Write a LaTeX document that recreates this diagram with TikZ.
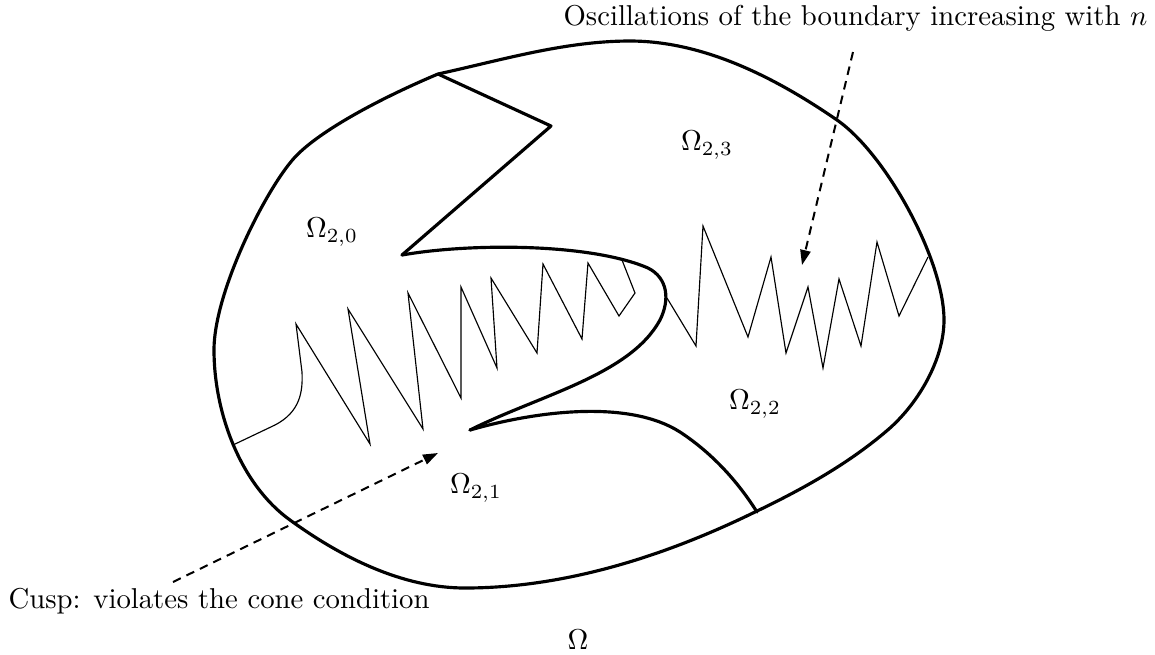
\documentclass[tikz,border=0pt]{standalone}
\usetikzlibrary{arrows.meta}
\begin{document}
\begin{tikzpicture}[x=0.348pt,y=-0.348pt,
  bnd/.style={line width=1.1pt, line join=round, line cap=round},
  osc/.style={line width=0.4pt, line join=miter},
  callout/.style={line width=0.7pt, dash pattern=on 3pt off 2.2pt, -{Triangle[length=5.2pt,width=3.6pt]}},
  lab/.style={inner sep=0pt, font=\fontsize{10}{12}\selectfont}]
\useasboundingbox (0,0) rectangle (1155,654);

% outer boundary
\draw[bnd] (438,74) .. controls (502,60) and (565,41) .. (630,41)
  .. controls (704,41) and (776,78) .. (837,120)
  .. controls (886,154) and (944,260) .. (944,320)
  .. controls (944,359) and (919,402) .. (890,428)
  .. controls (850,463) and (803,489) .. (755,512)
  .. controls (665,556) and (565,588) .. (465,588)
  .. controls (402,588) and (341,557) .. (290,520)
  .. controls (240,484) and (214,412) .. (214,350)
  .. controls (214,290) and (269,183) .. (297,155)
  .. controls (325,127) and (388,95) .. (438,74) -- cycle;

% Z-shaped interface
\draw[bnd] (438,74) -- (551,126) -- (402,255);
% upper cusp curve
\draw[bnd] (402,255) .. controls (470,243) and (590,243) .. (648,268)
  .. controls (668,278) and (670,300) .. (660,320)
  .. controls (630,375) and (540,395) .. (470,430);
% lower cusp curve
\draw[bnd] (470,430) .. controls (540,410) and (630,400) .. (680,432)
  .. controls (715,455) and (740,485) .. (757,512);

% left oscillating boundary
\draw[osc] (233,445) -- (275,425) .. controls (300,412) and (303,392) .. (302,372)
  -- (296,324) -- (370,444) -- (348,309) -- (423,429) -- (408,293) -- (461,398)
  -- (461,287) -- (497,368) -- (491,278) -- (537,353) -- (543,264) -- (582,339)
  -- (588,263) -- (619,316) -- (635,293) -- (622,260);
% right oscillating boundary
\draw[osc] (667,298) -- (696,346) -- (703,226) -- (748,337) -- (771,257)
  -- (786,353) -- (808,287) -- (823,368) -- (839,279) -- (861,346) -- (877,242)
  -- (899,316) -- (928,257);

% labels
\node[lab] (o20) at (332,232) {$\Omega_{2,0}$};
\node[lab] (o23) at (707,145) {$\Omega_{2,3}$};
\node[lab] (o22) at (755,404) {$\Omega_{2,2}$};
\node[lab] (o21) at (476,488) {$\Omega_{2,1}$};
\node[lab] (om) at (578,640) {$\Omega$};
\node[lab, anchor=west] (osctext) at (563,18) {Oscillations of the boundary increasing with $n$};
\node[lab, anchor=west] (cusptext) at (8,601) {Cusp: violates the cone condition};

% callouts
\coordinate (oscstart) at (853,52);
\coordinate (osctip) at (802,265);
\coordinate (cuspstart) at (173,582);
\coordinate (cusptip) at (438,453);
\draw[callout] (oscstart) -- (osctip);
\draw[callout] (cuspstart) -- (cusptip);
\end{tikzpicture}
\end{document}
